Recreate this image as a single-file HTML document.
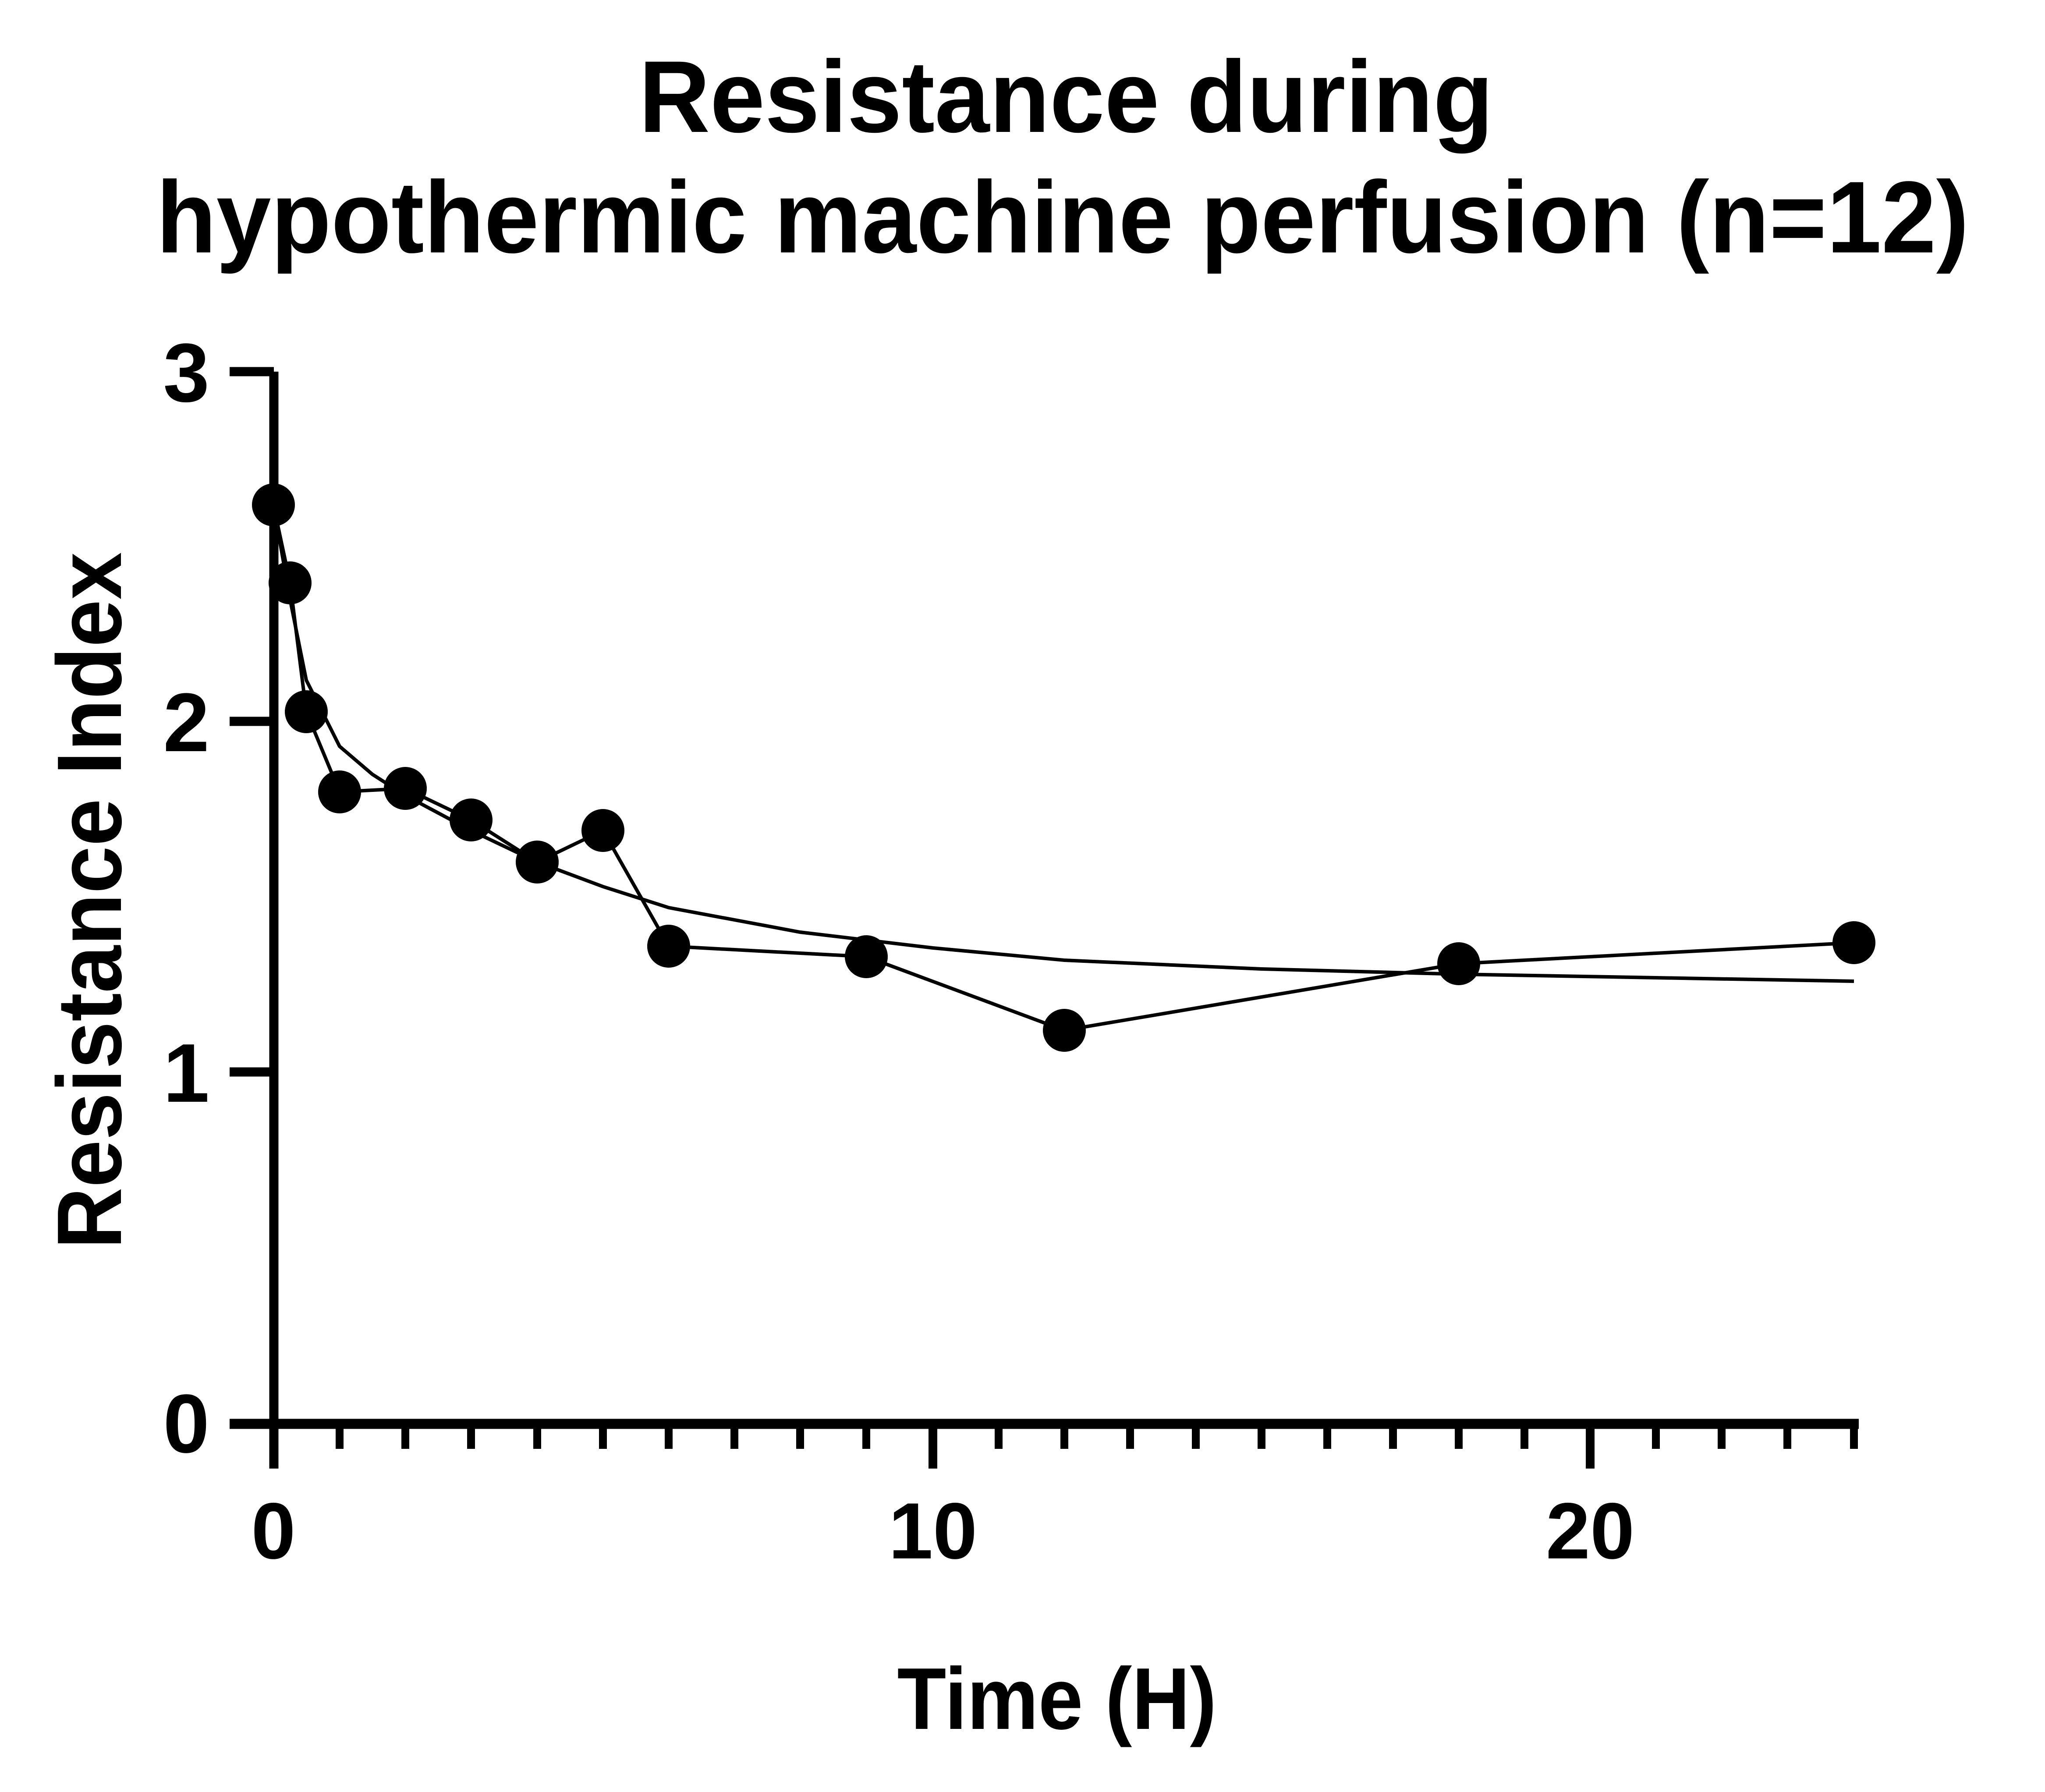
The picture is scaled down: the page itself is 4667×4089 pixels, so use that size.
<!DOCTYPE html>
<html><head><style>html,body{margin:0;padding:0;background:#fff}</style></head>
<body>
<svg xmlns="http://www.w3.org/2000/svg" width="4667" height="4084" viewBox="0 0 4667 4084" font-family="Liberation Sans, Arial, sans-serif" font-weight="bold">
<rect width="4667" height="4084" fill="#fff"/>
<text x="2433" y="301" font-size="233" text-anchor="middle" textLength="1950" lengthAdjust="spacingAndGlyphs">Resistance during</text>
<text x="2425" y="576" font-size="233" text-anchor="middle" textLength="4137" lengthAdjust="spacingAndGlyphs">hypothermic machine perfusion (n=12)</text>
<text transform="translate(276,2055) rotate(-90)" font-size="209" text-anchor="middle" textLength="1590" lengthAdjust="spacingAndGlyphs">Resistance Index</text>
<text x="2412" y="3945" font-size="200" text-anchor="middle" textLength="729" lengthAdjust="spacingAndGlyphs">Time (H)</text>
<g font-size="190" text-anchor="end">
<text x="478" y="916">3</text><text x="478" y="1714">2</text><text x="478" y="2514">1</text><text x="478" y="3314">0</text>
</g>
<g font-size="182" text-anchor="middle">
<text x="624" y="3556">0</text><text x="2129" y="3556">10</text><text x="3629" y="3556">20</text>
</g>
<g stroke="#000" fill="none">
<path d="M625 848V3351" stroke-width="21"/>
<path d="M524 3249H4242" stroke-width="23"/>
<path d="M524 848H625M524 1646H625M524 2446H625" stroke-width="21"/>
<path d="M2129 3249V3351M3629 3249V3351" stroke-width="20"/>
<path d="M775 3249V3306M925 3249V3306M1075 3249V3306M1226 3249V3306M1376 3249V3306M1526 3249V3306M1676 3249V3306M1826 3249V3306M1977 3249V3306M2279 3249V3306M2429 3249V3306M2579 3249V3306M2729 3249V3306M2879 3249V3306M3029 3249V3306M3179 3249V3306M3329 3249V3306M3479 3249V3306M3779 3249V3306M3929 3249V3306M4079 3249V3306M4231 3249V3306" stroke-width="18"/>
<polyline stroke-width="8" points="624,1152 662,1330 699,1624 775,1807 925,1799 1075,1871 1226,1967 1376,1895 1526,2159 1977,2183 2429,2351 3329,2199 4231,2151"/>
<polyline stroke-width="8" points="624,1152 662,1368 699,1552 775,1703 850,1767 925,1815 1075,1895 1226,1967 1376,2023 1526,2071 1826,2127 2129,2163 2429,2191 2879,2211 3329,2223 3779,2231 4231,2239"/>
</g>
<g fill="#000">
<circle cx="624" cy="1152" r="49"/><circle cx="662" cy="1330" r="49"/><circle cx="699" cy="1624" r="49"/><circle cx="775" cy="1807" r="49"/><circle cx="925" cy="1799" r="49"/><circle cx="1075" cy="1871" r="49"/><circle cx="1226" cy="1967" r="49"/><circle cx="1376" cy="1895" r="49"/><circle cx="1526" cy="2159" r="49"/><circle cx="1977" cy="2183" r="49"/><circle cx="2429" cy="2351" r="49"/><circle cx="3329" cy="2199" r="49"/><circle cx="4231" cy="2151" r="49"/>
</g>
</svg>
</body></html>
